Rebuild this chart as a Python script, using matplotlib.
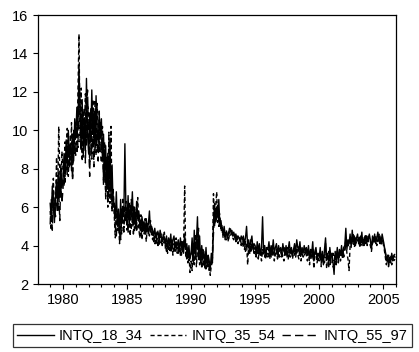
import numpy as np
import matplotlib
matplotlib.use("Agg")
import matplotlib.pyplot as plt
from matplotlib.ticker import MultipleLocator

plt.rcParams['font.family'] = ['Liberation Sans', 'DejaVu Sans']

# monthly values, 1979:01 .. 2005:12, one row per year
intq_18_34 = [
    6.2, 5.4, 7.1, 6.0, 5.2, 6.6, 7.4, 6.1, 7.8, 6.5, 8.2, 7.0,
    7.4, 8.8, 7.6, 9.5, 8.1, 10.0, 8.7, 9.3, 7.9, 9.8, 8.4, 10.6,
    9.6, 11.2, 10.0, 13.4, 10.8, 9.2, 11.6, 8.6, 10.4, 9.0, 12.7, 9.8,
    8.8, 10.9, 9.4, 12.1, 9.9, 11.0, 8.9, 11.8, 10.1, 9.3, 10.8, 9.7,
    10.6, 8.4, 9.8, 7.6, 9.2, 7.0, 8.8, 6.6, 9.6, 6.4, 8.2, 6.0,
    6.2, 5.4, 6.8, 5.0, 5.9, 4.6, 6.4, 5.2, 6.0, 5.5, 9.3, 5.8,
    5.2, 6.6, 5.0, 6.1, 5.5, 6.8, 5.1, 5.9, 4.9, 6.3, 5.4, 5.8,
    5.3, 4.8, 5.5, 5.0, 5.2, 4.6, 5.4, 4.9, 5.1, 5.8, 4.7, 5.0,
    4.8, 4.5, 4.9, 4.4, 4.7, 4.6, 4.3, 4.8, 4.5, 4.2, 4.6, 4.4,
    4.1, 4.5, 3.9, 4.4, 4.0, 4.6, 3.8, 4.3, 4.5, 3.9, 4.2, 4.0,
    4.3, 3.7, 4.4, 3.9, 4.2, 3.6, 4.6, 3.8, 4.1, 3.4, 4.0, 3.3,
    3.6, 4.4, 3.2, 4.8, 3.5, 4.2, 5.5, 3.4, 4.5, 3.1, 4.0, 3.3,
    3.7, 3.0, 3.9, 2.9, 3.5, 3.2, 2.8, 3.6, 3.1, 5.2, 6.2, 5.4,
    6.0, 5.5, 6.4, 5.0, 5.3, 4.8, 4.6, 5.0, 4.5, 4.7, 4.4, 4.6,
    4.9, 4.8, 4.6, 4.5, 4.7, 4.4, 4.6, 4.3, 4.5, 4.4, 4.2, 4.5,
    4.3, 4.5, 4.1, 4.4, 5.0, 4.0, 4.3, 3.9, 4.2, 4.5, 3.8, 4.1,
    4.0, 3.6, 4.2, 3.7, 4.1, 3.5, 3.9, 5.5, 3.6, 4.0, 3.4, 3.9,
    3.8, 4.2, 3.5, 4.0, 3.7, 4.3, 3.6, 3.9, 4.1, 3.5, 4.0, 3.7,
    3.9, 3.5, 4.1, 3.7, 3.6, 4.0, 3.4, 3.8, 4.2, 3.6, 3.9, 3.5,
    3.8, 4.1, 3.6, 4.3, 3.9, 3.7, 4.2, 3.5, 3.9, 3.6, 4.0, 3.7,
    3.9, 3.5, 4.0, 3.3, 3.8, 3.6, 4.2, 3.2, 3.7, 3.9, 3.4, 3.6,
    3.4, 3.9, 3.1, 3.7, 3.0, 3.8, 4.4, 3.3, 3.6, 2.9, 3.9, 3.4,
    3.6, 3.1, 2.5, 3.7, 3.3, 3.9, 3.2, 3.8, 3.5, 4.0, 3.4, 3.9,
    4.0, 4.9, 3.8, 4.3, 4.1, 4.6, 3.9, 4.8, 4.2, 4.5, 4.0, 4.4,
    4.6, 4.1, 4.4, 4.2, 4.7, 4.0, 4.3, 4.5, 4.1, 4.4, 4.2, 4.6,
    4.3, 3.8, 4.5, 4.2, 4.6, 4.1, 4.4, 4.7, 4.2, 4.5, 4.1, 4.6,
    4.3, 4.0, 3.6, 3.2, 3.5, 3.0, 3.4, 3.1, 3.6, 3.3, 3.5, 3.4,
]

intq_35_54 = [
    5.8, 4.8, 6.5, 7.5, 5.6, 6.3, 8.6, 6.0, 10.2, 7.9, 6.6, 8.9,
    8.0, 7.1, 9.4, 8.3, 10.1, 7.6, 9.0, 8.2, 10.4, 7.4, 9.6, 8.8,
    10.2, 8.8, 11.8, 15.0, 9.4, 12.2, 8.4, 11.0, 9.6, 11.9, 9.2, 11.4,
    11.0, 8.2, 10.6, 9.0, 11.6, 9.5, 10.9, 8.7, 11.4, 10.0, 8.9, 10.4,
    9.0, 10.2, 7.4, 9.4, 6.4, 8.6, 6.0, 9.9, 6.2, 10.2, 5.8, 7.0,
    5.6, 4.4, 6.1, 4.8, 5.3, 4.1, 5.7, 4.6, 6.5, 4.9, 5.4, 6.3,
    4.8, 6.0, 5.6, 4.5, 6.4, 5.2, 6.1, 4.7, 5.8, 5.0, 6.5, 4.9,
    4.4, 5.6, 4.3, 5.2, 4.6, 5.4, 4.2, 5.0, 4.8, 4.5, 5.3, 4.6,
    4.3, 4.7, 4.1, 4.5, 4.2, 4.8, 4.0, 4.4, 4.6, 4.0, 4.3, 4.7,
    3.8, 4.2, 3.6, 4.4, 3.7, 4.0, 4.3, 3.5, 4.1, 3.7, 4.4, 3.6,
    3.9, 4.1, 3.5, 4.3, 3.6, 4.0, 7.1, 3.4, 3.9, 3.1, 3.6, 2.6,
    3.2, 2.7, 4.1, 3.0, 4.6, 2.9, 3.8, 4.9, 3.0, 3.7, 2.8, 3.4,
    2.9, 3.5, 2.7, 3.3, 2.8, 3.1, 2.45, 3.0, 3.4, 6.7, 5.0, 6.0,
    6.8, 5.2, 5.8, 5.6, 4.8, 5.1, 4.4, 4.7, 4.3, 4.8, 4.5, 4.2,
    4.6, 4.9, 4.7, 4.4, 4.3, 4.6, 4.2, 4.5, 4.1, 4.4, 4.3, 4.0,
    4.2, 3.9, 4.3, 3.7, 4.1, 3.0, 4.0, 3.6, 4.3, 3.8, 4.0, 3.5,
    3.7, 3.4, 3.9, 3.3, 3.8, 3.6, 3.2, 3.8, 3.5, 3.9, 3.3, 3.6,
    3.4, 3.8, 3.3, 3.7, 3.5, 3.9, 3.2, 3.6, 3.8, 3.3, 3.7, 3.4,
    3.5, 3.8, 3.4, 3.2, 3.7, 3.5, 3.9, 3.3, 3.6, 3.4, 3.8, 3.3,
    3.6, 3.9, 3.4, 3.8, 3.5, 3.3, 3.9, 3.2, 3.7, 3.4, 3.5, 3.8,
    3.5, 3.2, 3.8, 3.0, 3.6, 3.4, 3.9, 2.8, 3.5, 3.7, 3.1, 3.4,
    3.2, 3.6, 2.9, 3.5, 3.3, 3.1, 4.1, 2.8, 3.4, 3.7, 3.0, 3.2,
    3.3, 2.9, 2.8, 3.4, 3.0, 3.6, 3.1, 3.5, 3.2, 3.7, 3.3, 3.6,
    3.8, 4.3, 3.6, 3.3, 2.7, 4.0, 4.4, 4.1, 4.6, 3.9, 4.3, 4.1,
    4.2, 4.4, 3.9, 4.5, 4.1, 4.3, 4.0, 4.4, 4.6, 4.0, 4.3, 4.1,
    4.0, 3.7, 4.2, 4.4, 4.1, 4.5, 4.0, 4.3, 4.6, 4.1, 4.4, 4.2,
    4.1, 3.8, 3.4, 3.0, 3.3, 2.9, 3.2, 3.5, 3.0, 3.4, 3.2, 3.3,
]

intq_55_97 = [
    5.1, 6.4, 4.8, 6.8, 6.1, 5.5, 7.0, 5.7, 6.9, 5.3, 7.6, 6.2,
    6.9, 8.2, 7.3, 8.9, 7.7, 9.2, 8.0, 9.7, 8.5, 7.5, 10.0, 9.1,
    8.7, 10.5, 9.1, 12.0, 11.3, 8.9, 10.2, 9.5, 11.1, 8.3, 10.7, 12.1,
    9.6, 7.6, 11.2, 8.5, 10.3, 8.1, 11.5, 9.2, 9.9, 8.4, 11.0, 8.8,
    8.4, 9.5, 7.1, 8.8, 6.8, 7.9, 6.5, 8.4, 6.9, 7.6, 5.9, 6.8,
    5.9, 5.0, 4.5, 5.6, 4.8, 5.2, 4.3, 5.9, 5.1, 4.7, 6.0, 5.3,
    5.5, 4.7, 6.2, 5.3, 4.9, 5.7, 4.6, 6.0, 5.4, 4.8, 5.1, 5.6,
    5.0, 4.5, 5.1, 4.7, 5.3, 4.9, 4.6, 5.2, 4.5, 5.0, 4.8, 4.9,
    4.6, 4.2, 4.5, 4.1, 4.4, 4.0, 4.5, 4.2, 4.0, 4.4, 4.1, 4.3,
    4.0, 3.7, 4.2, 3.8, 4.1, 3.6, 4.0, 3.9, 3.7, 4.2, 3.8, 3.9,
    3.6, 4.0, 3.7, 3.5, 4.1, 3.8, 4.4, 3.6, 3.3, 3.8, 3.2, 3.5,
    3.4, 3.9, 3.0, 4.2, 3.3, 3.7, 4.4, 3.2, 3.9, 3.5, 3.1, 3.8,
    3.3, 2.8, 3.4, 3.1, 3.6, 2.7, 3.0, 2.9, 3.3, 4.6, 5.6, 5.1,
    5.5, 6.1, 5.0, 5.4, 4.9, 4.6, 4.8, 4.4, 4.6, 4.3, 4.5, 4.7,
    4.7, 4.5, 4.8, 4.6, 4.4, 4.5, 4.3, 4.4, 4.2, 4.3, 4.4, 4.1,
    4.0, 4.3, 3.8, 4.2, 3.9, 4.1, 3.6, 4.0, 3.7, 4.1, 3.9, 3.8,
    3.9, 3.5, 3.7, 3.4, 3.6, 3.9, 3.5, 3.7, 4.0, 3.4, 3.7, 3.5,
    3.6, 3.5, 3.9, 3.4, 3.8, 3.6, 3.7, 3.5, 3.6, 3.9, 3.4, 3.6,
    3.7, 3.4, 3.6, 3.9, 3.5, 3.7, 3.6, 3.4, 3.8, 3.5, 3.6, 3.7,
    3.7, 3.5, 3.8, 3.6, 4.0, 3.8, 3.5, 3.7, 3.6, 3.8, 3.5, 3.6,
    3.7, 3.6, 3.4, 3.5, 3.7, 3.3, 3.6, 3.5, 3.4, 3.6, 3.5, 3.3,
    3.5, 3.3, 3.6, 3.2, 3.4, 3.6, 3.9, 3.5, 3.3, 3.4, 3.6, 3.1,
    3.4, 3.6, 3.2, 3.5, 3.1, 3.7, 3.4, 3.3, 3.6, 3.5, 3.8, 3.4,
    3.7, 4.1, 4.0, 3.9, 4.2, 4.4, 4.1, 4.3, 4.0, 4.2, 4.4, 4.2,
    4.3, 4.2, 4.5, 4.0, 4.4, 4.2, 4.5, 4.1, 4.3, 4.2, 4.5, 4.3,
    4.2, 4.0, 4.1, 4.3, 4.2, 4.4, 4.3, 4.1, 4.4, 4.3, 4.0, 4.3,
    4.2, 3.9, 3.7, 3.4, 3.2, 3.5, 3.1, 3.3, 3.5, 3.2, 3.6, 3.5,
]

series_names = ["INTQ_18_34", "INTQ_35_54", "INTQ_55_97"]
start_year = 1979
years = start_year + np.arange(len(intq_18_34)) / 12.0

fig = plt.figure(figsize=(4.19, 3.52), dpi=100)
ax = fig.add_axes([38 / 419, 68 / 352, 358 / 419, 269 / 352])

lw = 1.0
l1, = ax.plot(years, intq_18_34, color='black', lw=lw, linestyle='-')
l2, = ax.plot(years, intq_35_54, color='black', lw=lw, linestyle=(0, (3, 2)))
l3, = ax.plot(years, intq_55_97, color='black', lw=lw, linestyle=(0, (6, 3)))

ax.set_xlim(1978.05, 2006.0)
ax.set_ylim(2, 16)
ax.xaxis.set_major_locator(MultipleLocator(5))
ax.xaxis.set_minor_locator(MultipleLocator(1))
ax.yaxis.set_major_locator(MultipleLocator(2))
ax.tick_params(axis='both', which='both', direction='out', labelsize=10.5,
               top=False, right=False, color='black', width=0.8)
ax.tick_params(which='major', length=3.5)
ax.tick_params(which='minor', length=2.5)
ax.tick_params(axis='x', pad=3)
for s in ax.spines.values():
    s.set_linewidth(0.9)

leg = fig.legend([l1, l2, l3], series_names, loc='lower left',
                 bbox_to_anchor=(13 / 419, 5 / 352, 399 / 419, 25 / 352),
                 mode='expand', ncol=3, borderaxespad=0, fontsize=10.5,
                 fancybox=False, frameon=True, handlelength=2.5,
                 handletextpad=0.35, columnspacing=0.5, borderpad=0.3)
leg.get_frame().set_edgecolor('black')
leg.get_frame().set_linewidth(0.9)

fig.savefig("out.png", dpi=100)
